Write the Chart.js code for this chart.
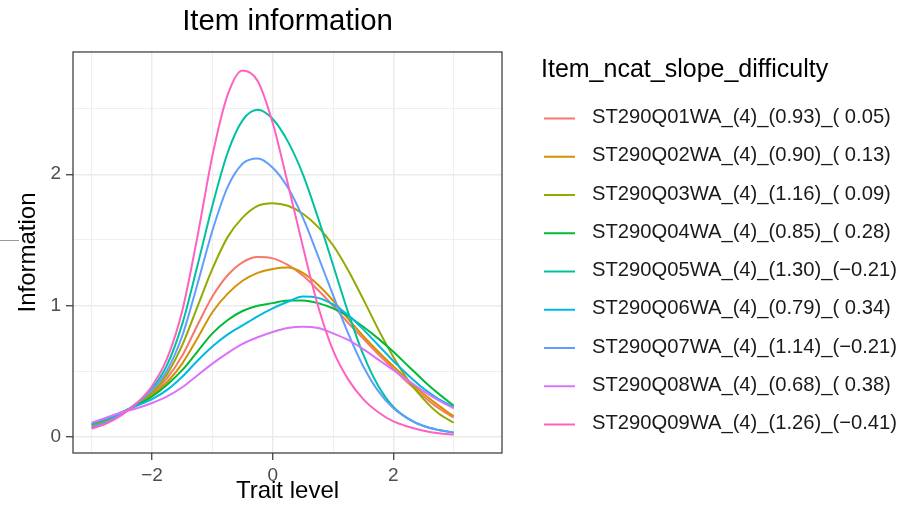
<!DOCTYPE html>
<html>
<head>
<meta charset="utf-8">
<title>Item information</title>
<script src="https://cdn.jsdelivr.net/npm/chart.js@4.4.1/dist/chart.umd.min.js"></script>
<style>
  html, body { margin: 0; padding: 0; background: #ffffff; }
  #wrap { width: 902px; height: 513px; }
</style>
</head>
<body>
<div id="wrap"><canvas id="infoChart" width="902" height="513"></canvas></div>
<script>
// trait levels the curves were read at
const theta = [-3, -2.75, -2.5, -2.25, -2, -1.75, -1.5, -1.25, -1, -0.75, -0.5, -0.25, 0, 0.25, 0.5, 0.75, 1, 1.25, 1.5, 1.75, 2, 2.25, 2.5, 2.75, 3];

const itemLabels = [
  "ST290Q01WA_(4)_(0.93)_( 0.05)",
  "ST290Q02WA_(4)_(0.90)_( 0.13)",
  "ST290Q03WA_(4)_(1.16)_( 0.09)",
  "ST290Q04WA_(4)_(0.85)_( 0.28)",
  "ST290Q05WA_(4)_(1.30)_(\u22120.21)",
  "ST290Q06WA_(4)_(0.79)_( 0.34)",
  "ST290Q07WA_(4)_(1.14)_(\u22120.21)",
  "ST290Q08WA_(4)_(0.68)_( 0.38)",
  "ST290Q09WA_(4)_(1.26)_(\u22120.41)"
];
const itemColors = ["#F8766D", "#D39200", "#93AA00", "#00BA38", "#00C19F", "#00B9E3", "#619CFF", "#DB72FB", "#FF61C3"];

// information values, one array per item
const q01 = [0.09, 0.13, 0.185, 0.25, 0.33, 0.45, 0.62, 0.85, 1.07, 1.23, 1.33, 1.37, 1.36, 1.31, 1.23, 1.12, 1.00, 0.87, 0.75, 0.63, 0.52, 0.41, 0.31, 0.22, 0.15];
const q02 = [0.09, 0.13, 0.185, 0.245, 0.32, 0.42, 0.56, 0.75, 0.95, 1.09, 1.19, 1.25, 1.28, 1.29, 1.25, 1.16, 1.04, 0.90, 0.77, 0.65, 0.54, 0.43, 0.33, 0.24, 0.16];
const q03 = [0.08, 0.12, 0.18, 0.25, 0.34, 0.48, 0.70, 0.99, 1.28, 1.52, 1.67, 1.76, 1.78, 1.76, 1.70, 1.60, 1.46, 1.27, 1.05, 0.82, 0.61, 0.43, 0.29, 0.18, 0.11];
const q04 = [0.10, 0.14, 0.19, 0.245, 0.31, 0.40, 0.51, 0.65, 0.79, 0.89, 0.96, 1.00, 1.02, 1.04, 1.04, 1.02, 0.98, 0.92, 0.84, 0.75, 0.65, 0.54, 0.43, 0.33, 0.24];
const q05 = [0.07, 0.11, 0.175, 0.26, 0.37, 0.55, 0.86, 1.30, 1.76, 2.16, 2.41, 2.49, 2.42, 2.25, 2.00, 1.67, 1.31, 0.95, 0.63, 0.39, 0.23, 0.14, 0.085, 0.055, 0.035];
const q06 = [0.10, 0.14, 0.19, 0.24, 0.29, 0.36, 0.46, 0.58, 0.69, 0.78, 0.85, 0.92, 0.98, 1.03, 1.07, 1.06, 1.01, 0.93, 0.82, 0.70, 0.58, 0.47, 0.37, 0.29, 0.23];
const q07 = [0.075, 0.115, 0.18, 0.26, 0.36, 0.51, 0.77, 1.16, 1.57, 1.90, 2.08, 2.12, 2.05, 1.90, 1.67, 1.38, 1.08, 0.79, 0.54, 0.35, 0.22, 0.14, 0.085, 0.055, 0.035];
const q08 = [0.11, 0.15, 0.19, 0.22, 0.26, 0.31, 0.38, 0.47, 0.56, 0.64, 0.71, 0.76, 0.80, 0.83, 0.84, 0.83, 0.79, 0.74, 0.67, 0.59, 0.51, 0.43, 0.35, 0.28, 0.22];
const q09 = [0.065, 0.105, 0.17, 0.26, 0.39, 0.60, 0.96, 1.52, 2.14, 2.60, 2.79, 2.71, 2.39, 1.93, 1.45, 1.00, 0.66, 0.44, 0.29, 0.19, 0.12, 0.08, 0.05, 0.03, 0.02];

const series = [q01, q02, q03, q04, q05, q06, q07, q08, q09];

const fmt = (v) => (v < 0 ? "\u2212" + Math.abs(v) : String(v));
const isMajorX = (v) => Math.abs(v % 2) < 1e-9;
const isMajorY = (v) => Math.abs(v - Math.round(v)) < 1e-9;

Chart.defaults.font.family = "'Liberation Sans', Arial, sans-serif";

// ggplot-ish panel border, and the legend drawn on the right
const ggExtras = {
  id: "ggExtras",
  afterDraw(chart) {
    const { ctx, chartArea } = chart;
    ctx.save();
    ctx.strokeStyle = "#333333";
    ctx.lineWidth = 1.2;
    ctx.strokeRect(chartArea.left, chartArea.top, chartArea.right - chartArea.left, chartArea.bottom - chartArea.top);

    // small grey stroke left of the y title
    ctx.strokeStyle = "#9a9a9a";
    ctx.lineWidth = 1;
    ctx.beginPath();
    ctx.moveTo(0, 240.5);
    ctx.lineTo(19, 240.5);
    ctx.stroke();

    // legend
    ctx.fillStyle = "#000000";
    ctx.textAlign = "left";
    ctx.textBaseline = "alphabetic";
    ctx.font = "25px 'Liberation Sans', Arial, sans-serif";
    ctx.fillText("Item_ncat_slope_difficulty", 541, 77);

    ctx.font = "20.2px 'Liberation Sans', Arial, sans-serif";
    ctx.textBaseline = "middle";
    chart.data.datasets.forEach((ds, i) => {
      const y = 117.5 + i * 38.25;
      ctx.strokeStyle = ds.borderColor;
      ctx.lineWidth = 2;
      ctx.beginPath();
      ctx.moveTo(544, y + 1);
      ctx.lineTo(575, y + 1);
      ctx.stroke();
      ctx.fillStyle = "#1a1a1a";
      ctx.fillText(ds.label, 592, y);
    });
    ctx.restore();
  }
};

new Chart(document.getElementById("infoChart"), {
  type: "line",
  data: {
    datasets: series.map((vals, i) => ({
      label: itemLabels[i],
      data: theta.map((t, j) => ({ x: t, y: vals[j] })),
      borderColor: itemColors[i],
      backgroundColor: itemColors[i],
      borderWidth: 2,
      pointRadius: 0,
      cubicInterpolationMode: "monotone",
      fill: false,
      order: series.length - i
    }))
  },
  options: {
    responsive: false,
    animation: false,
    layout: { padding: { left: 0, top: 0, right: 400, bottom: 0 } },
    plugins: {
      legend: { display: false },
      tooltip: { enabled: false },
      title: {
        display: true,
        fullSize: false,
        text: "Item information",
        color: "#000000",
        font: { size: 29.4, weight: "normal" },
        padding: { top: 4, bottom: 12.7 }
      }
    },
    scales: {
      x: {
        type: "linear",
        min: -3.31,
        max: 3.8,
        afterFit: (scale) => { scale.height = 60; },
        border: { display: false },
        grid: {
          color: "#ebebeb",
          lineWidth: (c) => (isMajorX(c.tick.value) ? 1.5 : 0.8),
          tickLength: 7,
          tickWidth: 1.2,
          tickColor: (c) => (isMajorX(c.tick.value) ? "#333333" : "rgba(0,0,0,0)")
        },
        ticks: {
          stepSize: 1,
          includeBounds: false,
          autoSkip: false,
          maxRotation: 0,
          padding: 4,
          color: "#4d4d4d",
          font: { size: 19 },
          callback: (v) => (isMajorX(v) ? fmt(v) : "")
        },
        title: {
          display: true,
          text: "Trait level",
          color: "#000000",
          font: { size: 24 },
          padding: { top: 0, bottom: 7 }
        }
      },
      y: {
        type: "linear",
        min: -0.12,
        max: 2.93,
        afterFit: (scale) => { scale.width = 73; },
        border: { display: false },
        grid: {
          color: "#ebebeb",
          lineWidth: (c) => (isMajorY(c.tick.value) ? 1.5 : 0.8),
          tickLength: 7,
          tickWidth: 1.2,
          tickColor: (c) => (isMajorY(c.tick.value) ? "#333333" : "rgba(0,0,0,0)")
        },
        ticks: {
          stepSize: 0.5,
          includeBounds: false,
          autoSkip: false,
          padding: 5,
          color: "#4d4d4d",
          font: { size: 19 },
          callback: (v) => (isMajorY(v) ? fmt(v) : "")
        },
        title: {
          display: true,
          text: "Information",
          color: "#000000",
          font: { size: 24 },
          padding: { top: 13.6, bottom: 0 }
        }
      }
    }
  },
  plugins: [ggExtras]
});
</script>
</body>
</html>
